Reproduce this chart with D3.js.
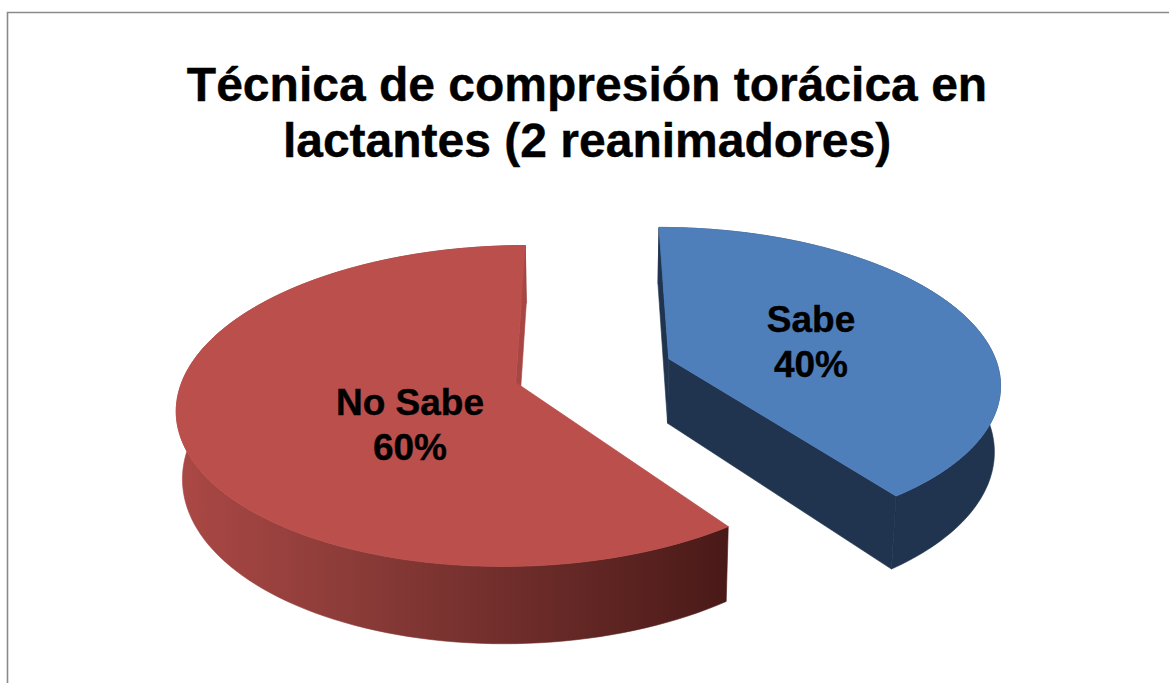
<!DOCTYPE html>
<html>
<head>
<meta charset="utf-8">
<script src="https://cdn.jsdelivr.net/npm/d3@7"></script>
<style>
  html, body { margin: 0; padding: 0; background: #fff; }
  svg { display: block; }
  text { font-family: "Liberation Sans", Arial, sans-serif; font-weight: bold; fill: #000; stroke: #000; stroke-width: 0.4px; }
</style>
</head>
<body>
<div id="vis"></div>
<script>
var categories = ["Sabe", "No Sabe"];
var percents = [40, 60];
var title_lines = ["Técnica de compresión torácica en", "lactantes (2 reanimadores)"];

var width = 1169;
var height = 683;

// slice colours and how far each slice is pulled out of the pie
var top_colors = ["#4f7fbb", "#bb4f4c"];
var wall_colors = ["#20344f", "#a84644"];
var center_u = [0.238, -0.2255];
var center_v = [-0.155, 0];
var label_x = [811, 410];
var label_y = [332, 415];

// perspective of the pie plane
var persp = 0.1465;
var drop = 66;
var shrink = 0.015;

var xScale = d3.scaleLinear().domain([-1, 1]).range([591 - 334, 591 + 334]);
var yScale = d3.scaleLinear().domain([-1, 1]).range([382.5 - 157, 382.5 + 157]);

var svg = d3.select("#vis")
  .append("svg")
  .attr("width", width)
  .attr("height", height);

// frame, only top and left are in the picture
svg.append("path")
  .attr("d", "M7.5," + height + "V12.5H" + width)
  .attr("fill", "none")
  .attr("stroke", "#8a8a8a")
  .attr("stroke-width", 1.6);

var grad = svg.append("defs").append("linearGradient")
  .attr("id", "redSide")
  .attr("gradientUnits", "userSpaceOnUse")
  .attr("x1", 178).attr("x2", 725)
  .attr("y1", 0).attr("y2", 0);
grad.append("stop").attr("offset", "0%").attr("stop-color", "#ab4845");
grad.append("stop").attr("offset", "35%").attr("stop-color", "#883a37");
grad.append("stop").attr("offset", "100%").attr("stop-color", "#4a1a18");

// top face point
function topPoint(i, r, a) {
  var u = center_u[i] + r * Math.sin(a);
  var v = center_v[i] - r * Math.cos(a);
  var w = 1 - persp * v;
  return [xScale(u / w), yScale(v / w)];
}

// same point on the underside
function lowPoint(i, r, a) {
  var p = topPoint(i, r, a);
  var v = center_v[i] - r * Math.cos(a);
  var w = 1 - persp * v;
  return [591 + (p[0] - 591) * (1 - shrink), p[1] + drop / w];
}

var pie = d3.pie().sort(null)(percents);
var line = d3.line();

function arcAngles(d) {
  return d3.range(0, 121).map(function(k) {
    return d.startAngle + (d.endAngle - d.startAngle) * k / 120;
  });
}

pie.forEach(function(d, i) {
  var angles = arcAngles(d);
  var side_fill = i == 1 ? "url(#redSide)" : wall_colors[i];
  var g = svg.append("g");

  // round wall
  var wall = angles.map(function(a) { return topPoint(i, 1, a); })
    .concat(angles.slice().reverse().map(function(a) { return lowPoint(i, 1, a); }));
  g.append("path")
    .attr("d", line(wall) + "Z")
    .attr("fill", side_fill)
    .attr("stroke", side_fill)
    .attr("stroke-width", 0.6);

  // flat cut walls, the red start wall faces away so it is skipped
  var cuts = i == 0 ? [d.startAngle, d.endAngle] : [d.endAngle];
  cuts.forEach(function(a) {
    g.append("path")
      .attr("d", line([topPoint(i, 0, a), topPoint(i, 1, a), lowPoint(i, 1, a), lowPoint(i, 0, a)]) + "Z")
      .attr("fill", wall_colors[i])
      .attr("stroke", wall_colors[i])
      .attr("stroke-width", 0.6);
  });

  // top face
  var face = [topPoint(i, 0, d.startAngle)].concat(angles.map(function(a) { return topPoint(i, 1, a); }));
  g.append("path")
    .attr("d", line(face) + "Z")
    .attr("fill", top_colors[i])
    .attr("stroke", top_colors[i])
    .attr("stroke-width", 0.8);
});

svg.selectAll(".title")
  .data(title_lines)
  .enter()
  .append("text")
  .attr("class", "title")
  .attr("x", 587)
  .attr("y", function(d, i) { return 101 + i * 56; })
  .attr("text-anchor", "middle")
  .style("font-size", "48px")
  .text(function(d) { return d; });

categories.forEach(function(c, i) {
  var t = svg.append("text")
    .attr("text-anchor", "middle")
    .style("font-size", "37px");
  t.append("tspan").attr("x", label_x[i]).attr("y", label_y[i]).text(c);
  t.append("tspan").attr("x", label_x[i]).attr("y", label_y[i] + 45).text(percents[i] + "%");
});
</script>
</body>
</html>
